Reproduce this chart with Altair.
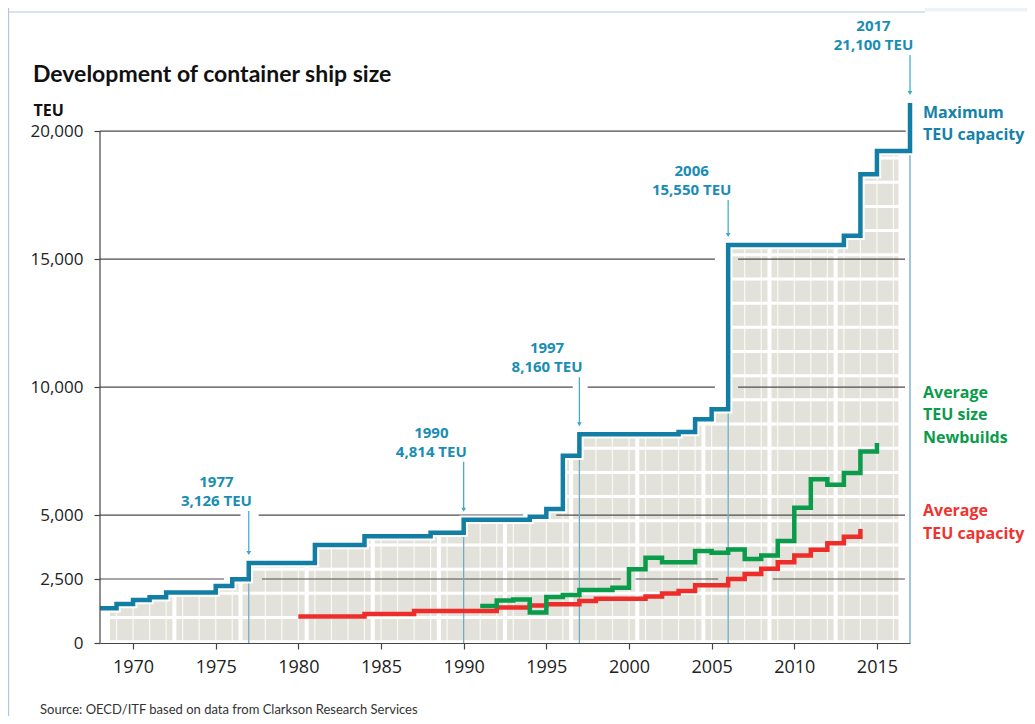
import altair as alt
import pandas as pd

# ---------------- data ----------------
max_years = [1968, 1969, 1970, 1971, 1972, 1975, 1976, 1977, 1981, 1984, 1988, 1990,
             1994, 1995, 1996, 1997, 2003, 2004, 2005, 2006, 2013, 2014, 2015, 2017]
max_teu = [1360, 1520, 1685, 1790, 1970, 2230, 2490, 3126, 3825, 4175, 4305, 4814,
           4930, 5240, 7315, 8160, 8240, 8745, 9130, 15550, 15915, 18315, 19220, 21100]

new_years = [1991, 1992, 1993, 1994, 1995, 1996, 1997, 1999, 2000, 2001, 2002, 2004,
             2005, 2006, 2007, 2008, 2009, 2010, 2011, 2012, 2013, 2014, 2015]
new_teu = [1450, 1660, 1700, 1195, 1800, 1880, 2070, 2160, 2880, 3330, 3160, 3590,
           3530, 3650, 3280, 3420, 3990, 5280, 6400, 6180, 6640, 7480, 7810]

avg_years = [1980, 1984, 1987, 1992, 1994, 1995, 1997, 1998, 2001, 2002, 2003, 2004,
             2006, 2007, 2008, 2009, 2010, 2011, 2012, 2013, 2014]
avg_teu = [1040, 1130, 1250, 1390, 1470, 1515, 1640, 1730, 1815, 1930, 2035, 2260,
           2500, 2700, 2900, 3160, 3420, 3640, 3900, 4150, 4450]

note_years = [1977, 1990, 1997, 2006, 2017]
note_teu = [3126, 4814, 8160, 15550, 21100]

series_labels = [["Maximum", "TEU capacity"],
                 ["Average", "TEU size", "Newbuilds"],
                 ["Average", "TEU capacity"]]

x_ticks = [1970, 1975, 1980, 1985, 1990, 1995, 2000, 2005, 2010, 2015]
y_ticks = [0, 2500, 5000, 10000, 15000, 20000]

grid_at = [2500, 2500, 2500, 2500, 5000, 5000, 5000, 10000, 10000, 10000, 15000, 15000, 20000]
grid_from = [1968, 1977.8, 2000.4, 2008.7, 1968, 1977.6, 1995.6, 1968, 1997.5, 2006.6, 1968, 2006.6, 1968]
grid_to = [1975.5, 1999.5, 2005.4, 2016.7, 1976.5, 1993.6, 2016.7, 1996.6, 2005.2, 2016.7, 2005.2, 2016.7, 2017]

title_text = "Development of container ship size"
source_text = "Source: OECD/ITF based on data from Clarkson Research Services"

# ---------------- layout / style ----------------
W, H = 810, 540
X0, X1 = 1968, 2017
Y1 = 21100
TPP = Y1 / H  # TEU per pixel

TEAL = "#137ea3"
TEAL_TXT = "#1a8db4"
TEAL_LBL = "#1582a9"
GREEN = "#0a9b4b"
RED = "#ee2d2b"
GREY = "#e3e2da"
DROP = "#6ea9c3"
ARROW = "#3aa7cb"
GRID = "#4d4d4d"
AXIS = "#444444"
FONT = "Open Sans"
TFONT = "Lato"

NOTE_LIFT = [62, 68, 67, 55, 58]       # px from step to second label line
NOTE_GAP = 19                           # px between the two label lines
RIGHT_OFFS = [[-10, -32], [50, 28, 5], [18, -5]]  # px above last value

xs = alt.Scale(domain=[X0, X1], nice=False, zero=False)
ys = alt.Scale(domain=[0, Y1], nice=False)

XAXIS = alt.Axis(values=x_ticks, format="d", labelFont=FONT, labelFontSize=18,
                 labelColor="#222", tickSize=6, tickColor=AXIS, domainColor=AXIS,
                 domainWidth=1.2, tickWidth=1.2, labelPadding=9, grid=False,
                 labelFlush=False, zindex=1)
YAXIS = alt.Axis(values=y_ticks, format=",d", labelFont=FONT, labelFontSize=17,
                 labelColor="#222", tickSize=6, tickColor=AXIS, tickWidth=1.2,
                 domain=False, labelPadding=11, grid=False, zindex=1,
                 titleAngle=0, titleAlign="left", titleBaseline="alphabetic",
                 titleX=-67, titleY=12, titleFont=FONT, titleFontSize=16,
                 titleFontWeight="bold", titleColor="#111")


def step_val(x):
    v = max_teu[0]
    for yr, t in zip(max_years, max_teu):
        if yr <= x:
            v = t
    return v


def X(field="x"):
    return alt.X(f"{field}:Q", scale=xs, axis=XAXIS, title=None)


def Y(field="y"):
    return alt.Y(f"{field}:Q", scale=ys, axis=YAXIS, title="TEU")


layers = []

# page frame decoration
one = pd.DataFrame({"d": [0]})
layers.append(alt.Chart(one).mark_rule(color="#b5c4e1", strokeWidth=1.3).encode(
    x=alt.value(-91.5), y=alt.value(-95), y2=alt.value(613)))
layers.append(alt.Chart(one).mark_rule(color="#b5c4e1", strokeWidth=1.2).encode(
    x=alt.value(-92), x2=alt.value(825), y=alt.value(-91)))
layers.append(alt.Chart(one).mark_rect(color="#edf1f8").encode(
    x=alt.value(825), x2=alt.value(927), y=alt.value(-95), y2=alt.value(-91.5)))

# grey "container" fill under the maximum line
fill_start, fill_end = 1968.6, 2016.3
ax = [fill_start] + [yr for yr in max_years if fill_start < yr < fill_end] + [fill_end]
av = [step_val(a) for a in ax]
area_df = pd.DataFrame({"x": ax, "y": av})
layers.append(alt.Chart(area_df).mark_area(interpolate="step-after", color=GREY).encode(
    x=X(), y=Y()))

# white container seams
thin = pd.DataFrame({"x": list(range(1969, 2017))})
thin["y"] = 60
thin["y2"] = Y1
layers.append(alt.Chart(thin).mark_rule(color="white", strokeWidth=1.2, opacity=0.8).encode(
    x=X(), y=Y(), y2="y2:Q"))
thick = pd.DataFrame({"x": [1972.5 + 4 * k for k in range(11)]})
thick["y"] = 0
thick["y2"] = Y1
layers.append(alt.Chart(thick).mark_rule(color="white", strokeWidth=4).encode(
    x=X(), y=Y(), y2="y2:Q"))
horiz = pd.DataFrame({"y": [50 + 945 * k for k in range(21)]})
horiz["x"] = 1968.5
horiz["x2"] = 2016.6
layers.append(alt.Chart(horiz).mark_rule(color="white", strokeWidth=3).encode(
    y=Y(), x=X(), x2="x2:Q"))

# dark horizontal reference lines
grid_df = pd.DataFrame({"y": grid_at, "x": grid_from, "x2": grid_to})
layers.append(alt.Chart(grid_df).mark_rule(color=GRID, strokeWidth=1.2).encode(
    x=X(), x2="x2:Q", y=Y()))

# drop lines below annotated steps
drop_df = pd.DataFrame({"x": note_years,
                        "y2": [step_val(yr - 0.01) for yr in note_years]})
drop_df["y"] = 0
layers.append(alt.Chart(drop_df).mark_rule(color=DROP, strokeWidth=1.3).encode(
    x=X(), y=Y(), y2="y2:Q"))

# lines
max_df = pd.DataFrame({"x": max_years, "y": max_teu})
new_df = pd.DataFrame({"x": new_years, "y": new_teu})
avg_df = pd.DataFrame({"x": avg_years, "y": avg_teu})
line_kw = dict(interpolate="step-after", strokeJoin="miter", strokeCap="butt")
layers.append(alt.Chart(max_df).mark_line(color="white", strokeWidth=8.5, **line_kw).encode(x=X(), y=Y()))
layers.append(alt.Chart(max_df).mark_line(color=TEAL, strokeWidth=4.5, **line_kw).encode(x=X(), y=Y()))
layers.append(alt.Chart(avg_df).mark_line(color=RED, strokeWidth=4.5, **line_kw).encode(x=X(), y=Y()))
layers.append(alt.Chart(new_df).mark_line(color=GREEN, strokeWidth=4.5, **line_kw).encode(x=X(), y=Y()))

# y axis line (only up to 20,000)
yax = pd.DataFrame({"x": [X0], "y": [0], "y2": [20000]})
layers.append(alt.Chart(yax).mark_rule(color=AXIS, strokeWidth=1.2).encode(
    x=X(), y=Y(), y2="y2:Q"))

# annotations: arrows + labels
for yr, v, lift in zip(note_years, note_teu, NOTE_LIFT):
    shaft = pd.DataFrame({"x": [yr], "y": [v + (lift - 10) * TPP], "y2": [v + 11 * TPP]})
    layers.append(alt.Chart(shaft).mark_rule(color=ARROW, strokeWidth=1.2).encode(
        x=X(), y=Y(), y2="y2:Q"))
    head = pd.DataFrame({"x": [yr], "y": [v + 10 * TPP]})
    layers.append(alt.Chart(head).mark_point(shape="triangle-down", filled=True, size=22,
                                             color=ARROW, opacity=1).encode(x=X(), y=Y()))
    lab2 = f"{v:,} TEU"
    txt = pd.DataFrame({"x": [yr, yr], "y": [v + (lift + NOTE_GAP) * TPP, v + lift * TPP],
                        "t": [str(yr), lab2]})
    layers.append(alt.Chart(txt).mark_text(color=TEAL_TXT, font=FONT, fontSize=15,
                                           fontWeight="bold", align="center", baseline="middle",
                                           dx=5 - 0.5 * 8.3 * len(lab2)).encode(
        x=X(), y=Y(), text="t:N"))

# series labels on the right
last_vals = [max_teu[-1], new_teu[-1], avg_teu[-1]]
label_cols = [TEAL_LBL, GREEN, "#f0332f"]
for lines, offs, v, col in zip(series_labels, RIGHT_OFFS, last_vals, label_cols):
    df = pd.DataFrame({"x": [X1] * len(lines), "y": [v + o * TPP for o in offs], "t": lines})
    layers.append(alt.Chart(df).mark_text(color=col, font=FONT, fontSize=16, fontWeight="bold",
                                          align="left", baseline="middle", dx=13).encode(
        x=X(), y=Y(), text="t:N"))

# title and source
layers.append(alt.Chart(pd.DataFrame({"t": [title_text]})).mark_text(
    font=TFONT, fontSize=23, fontWeight="bold", color="#111", align="left",
    baseline="alphabetic").encode(x=alt.value(-67), y=alt.value(-21), text="t:N"))
layers.append(alt.Chart(pd.DataFrame({"t": [source_text]})).mark_text(
    font=TFONT, fontSize=13, color="#333", align="left",
    baseline="alphabetic").encode(x=alt.value(-60), y=alt.value(611), text="t:N"))

chart = alt.layer(*layers).properties(
    width=W, height=H,
    padding={"left": 92, "top": 95, "right": 117, "bottom": 73},
    autosize=alt.AutoSizeParams(type="none"),
    background="white",
).configure_view(stroke=None)

chart.save("out.html", embed_options={"renderer": "svg", "actions": False})
